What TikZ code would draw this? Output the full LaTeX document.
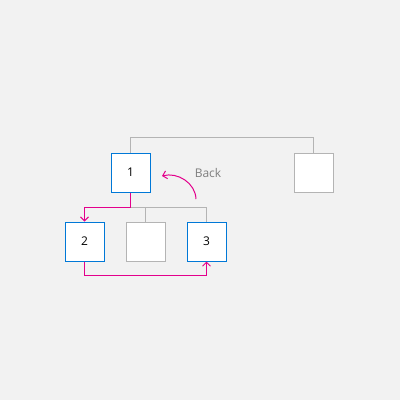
\documentclass[tikz,border=0pt]{standalone}
\usepackage{fontspec}
\setmainfont{Open Sans}
\usetikzlibrary{arrows.meta}
\definecolor{canvas}{HTML}{F2F2F2}
\definecolor{selblue}{HTML}{0078D7}
\definecolor{linegray}{HTML}{B4B4B4}
\definecolor{navpink}{HTML}{E3008C}
\definecolor{labelgray}{HTML}{7F7F7F}

\begin{document}
\begin{tikzpicture}[x=1pt, y=-1pt,
    page/.style={draw=selblue, fill=white, line width=1pt, minimum size=39pt, inner sep=0pt, font=\fontsize{12}{14}\selectfont},
    idle/.style={page, draw=linegray},
    tree/.style={draw=linegray, line width=1pt},
    nav/.style={draw=navpink, line width=1pt, -{Straight Barb[length=4pt,width=8pt]}}]
    \fill[canvas] (0,0) rectangle (400,400);
    \useasboundingbox (0,0) rectangle (400,400);
    \node[page] (one) at (130.5, 172.5) {1};
    \node[idle] (four) at (313.5, 172.5) {};
    \node[page] (two) at (84.5, 241.5) {2};
    \node[idle] (blank) at (145.5, 241.5) {};
    \node[page] (three) at (206.5, 241.5) {3};
    \coordinate (bus) at (130.5, 207.5);
    \coordinate (bs) at (196, 199);
    \coordinate (be) at (162, 176);
    \draw [tree] (one.north) -- ++(0,-15) -| (four.north);
    \draw [tree] (bus) -| (three.north);
    \draw [tree] (blank.north) -- (blank.north |- bus);
    \draw [nav] (one.south) -- (bus) -| (two.north);
    \draw [nav] (two.south) -- ++(0,14) -| (three.south);
    \draw [nav] (bs) to[out=92, in=15] (be);
    \node [text=labelgray, font=\fontsize{12}{14}\selectfont] (back) at (208, 173) {Back};
\end{tikzpicture}
\end{document}
